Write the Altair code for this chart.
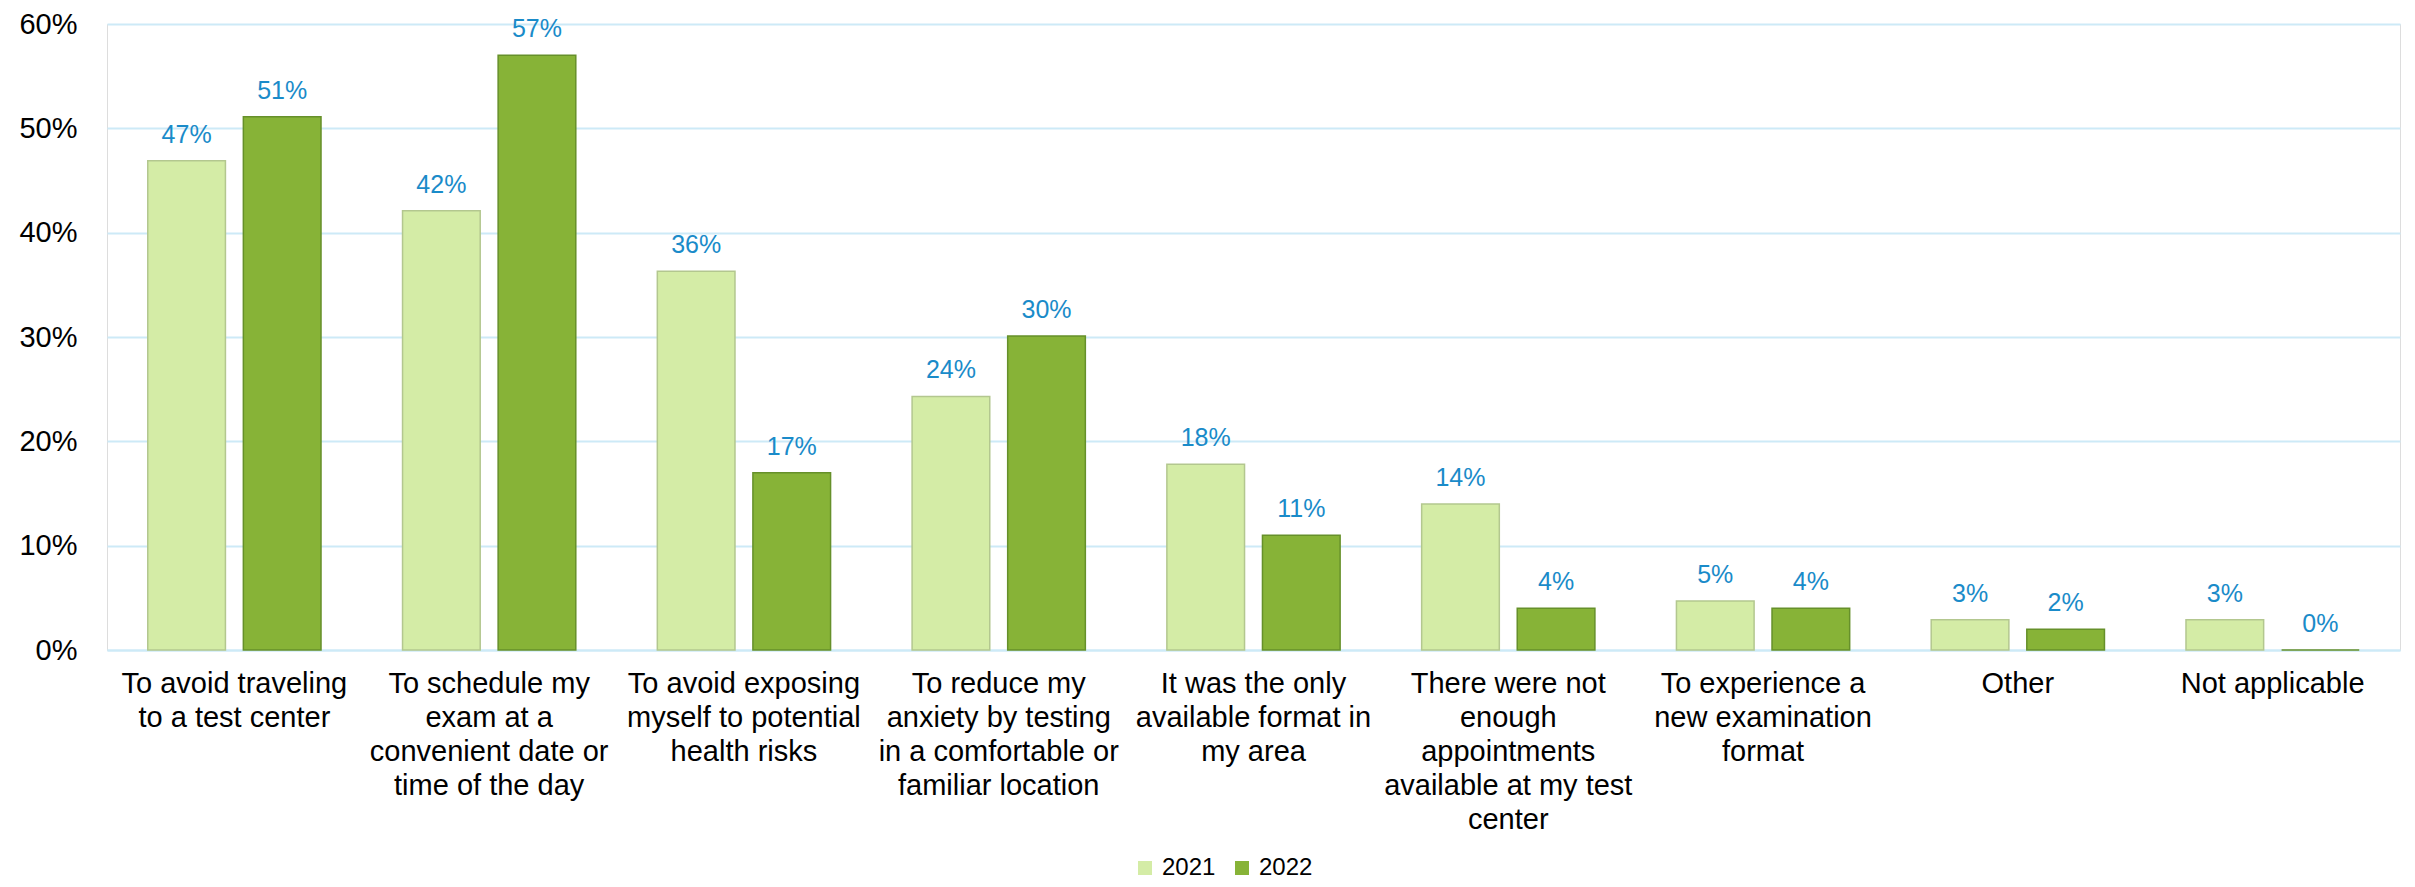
import altair as alt
import pandas as pd

categories = [
    "To avoid traveling|to a test center",
    "To schedule my|exam at a|convenient date or|time of the day",
    "To avoid exposing|myself to potential|health risks",
    "To reduce my|anxiety by testing|in a comfortable or|familiar location",
    "It was the only|available format in|my area",
    "There were not|enough|appointments|available at my test|center",
    "To experience a|new examination|format",
    "Other",
    "Not applicable",
]
years = ["2021", "2022"]
values_2021 = [0.469, 0.421, 0.363, 0.243, 0.178, 0.140, 0.047, 0.029, 0.029]
values_2022 = [0.511, 0.570, 0.170, 0.301, 0.110, 0.040, 0.040, 0.020, 0.0]
fill_colors = ["#D4ECA6", "#87B337"]
stroke_colors = ["#B3C78F", "#66902A"]
y_ticks = [0, 0.1, 0.2, 0.3, 0.4, 0.5, 0.6]

rows = []
for c, v in zip(categories, values_2021):
    rows.append({"cat": c, "year": "2021", "value": v})
for c, v in zip(categories, values_2022):
    rows.append({"cat": c, "year": "2022", "value": v})
df = pd.DataFrame(rows)

FONT = "Liberation Sans"

x_enc = alt.X(
    "cat:N",
    sort=categories,
    title=None,
    scale=alt.Scale(paddingInner=0.32, paddingOuter=0.16),
    axis=alt.Axis(
        labelExpr="split(datum.label, '|')",
        labelAngle=0,
        labelFontSize=29,
        labelLineHeight=34,
        labelFont=FONT,
        labelColor="#000000",
        labelPadding=19,
        labelLimit=400,
        ticks=False,
        domain=True,
        domainColor="#CDEAF7",
        domainWidth=2,
        grid=False,
    ),
)
xoff = alt.XOffset("year:N", sort=years, scale=alt.Scale(paddingInner=0.1875, paddingOuter=0))
y_enc = alt.Y(
    "value:Q",
    title=None,
    scale=alt.Scale(domain=[0, 0.6], nice=False),
    axis=alt.Axis(
        values=y_ticks,
        format=".0%",
        labelFontSize=29,
        labelFont=FONT,
        labelColor="#000000",
        labelPadding=30,
        ticks=False,
        domain=False,
        grid=True,
        gridColor="#CDEAF7",
        gridWidth=2,
    ),
)

base = alt.Chart(df)

bars = base.mark_bar(strokeWidth=1.5).encode(
    x=x_enc,
    xOffset=xoff,
    y=y_enc,
    color=alt.Color(
        "year:N",
        sort=years,
        scale=alt.Scale(domain=years, range=fill_colors),
        legend=alt.Legend(
            title=None,
            orient="none",
            direction="horizontal",
            legendX=1026,
            legendY=832,
            symbolType="square",
            symbolSize=196,
            symbolStrokeWidth=0,
            labelFontSize=24,
            labelFont=FONT,
            labelColor="#000000",
            labelOffset=5,
            columnPadding=14,
        ),
    ),
    stroke=alt.Stroke("year:N", sort=years, scale=alt.Scale(domain=years, range=stroke_colors), legend=None),
)

labels = base.mark_text(
    baseline="alphabetic", dy=-18, fontSize=25, font=FONT, color="#1A8BC9"
).encode(
    x=alt.X("cat:N", sort=categories),
    xOffset=xoff,
    y=alt.Y("value:Q"),
    text=alt.Text("value:Q", format=".0%"),
)

chart = (
    alt.layer(bars, labels)
    .properties(
        width=2293,
        height=626,
        autosize=alt.AutoSizeParams(type="none"),
        padding={"left": 99, "top": 16, "right": 5, "bottom": 229},
    )
    .configure_view(stroke=None)
    .configure(background="white")
)

chart.save("out.html", embed_options={"renderer": "svg", "actions": False})
